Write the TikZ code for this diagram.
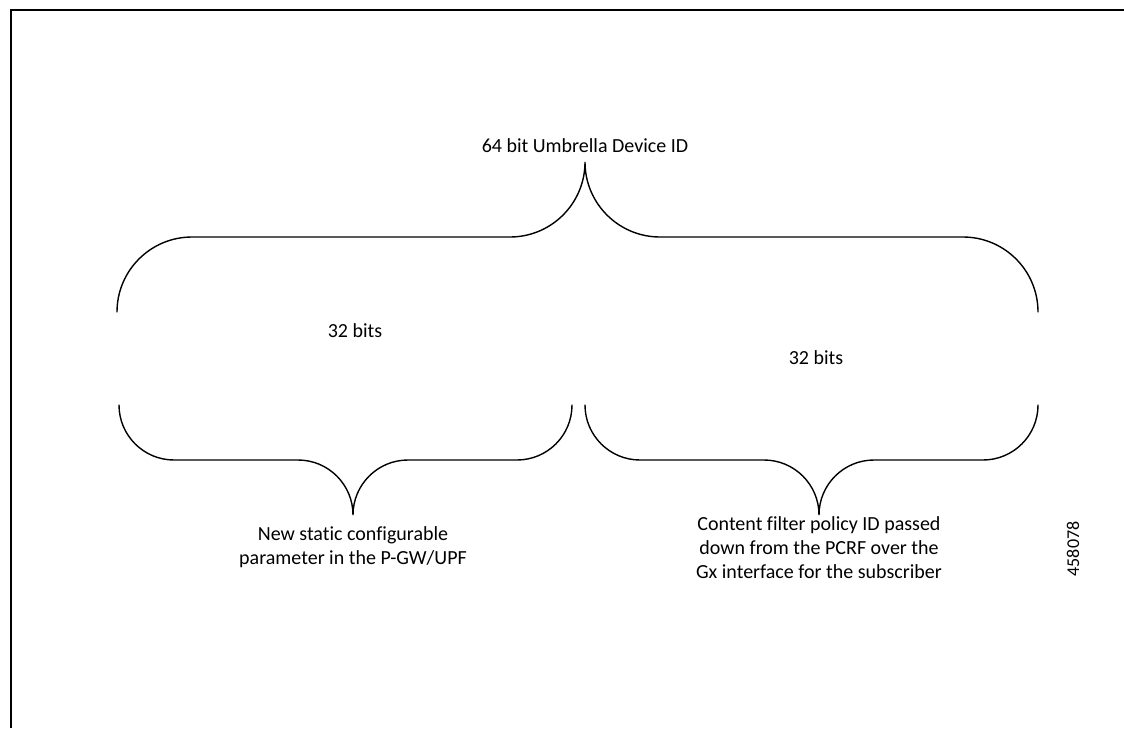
\documentclass[tikz,border=0pt]{standalone}
\usepackage{fontspec}
\setmainfont{Carlito}[Ligatures=NoCommon]
\usetikzlibrary{positioning}

\begin{document}
\begin{tikzpicture}[x=1pt,y=1pt,
  brace/.style={line width=1.4pt,line cap=round},
  label/.style={inner sep=0pt,align=center,font=\fontsize{20}{24}\selectfont}]

\useasboundingbox (0,0) rectangle (1124,-728);
\draw[line width=2.2pt] (11,-728) -- (11,-10) -- (1124,-10);

% tips of the braces
\coordinate (toptip) at (585,-162);
\coordinate (lefttip) at (353,-515);
\coordinate (righttip) at (819,-515);

% 64 bit brace
\draw[brace] (117,-312) arc[start angle=180,end angle=90,radius=75] -- (510,-237)
  arc[start angle=270,end angle=360,radius=75]
  arc[start angle=180,end angle=270,radius=75] -- (963,-237)
  arc[start angle=90,end angle=0,radius=75];

% two 32 bit braces
\draw[brace] (119,-405) arc[start angle=180,end angle=270,radius=55] -- (298,-460)
  arc[start angle=90,end angle=0,radius=55]
  arc[start angle=180,end angle=90,radius=55] -- (517,-460)
  arc[start angle=270,end angle=360,radius=55];
\draw[brace] (585,-405) arc[start angle=180,end angle=270,radius=55] -- (764,-460)
  arc[start angle=90,end angle=0,radius=55]
  arc[start angle=180,end angle=90,radius=55] -- (983,-460)
  arc[start angle=270,end angle=360,radius=55];

\node[label,above=9pt of toptip] (umbrella) {64 bit Umbrella Device ID};
\node[label,anchor=base] (leftbits) at (355,-337) {32 bits};
\node[label,anchor=base] (rightbits) at (816,-364) {32 bits};
\node[label,below=11pt of lefttip] (static) {New static configurable\\parameter in the P-GW/UPF};
\node[label,below=1pt of righttip] (policy) {Content filter policy ID passed\\down from the PCRF over the\\Gx interface for the subscriber};
\node[inner sep=0pt,rotate=90,font=\fontsize{18}{22}\selectfont] (figid) at (1073,-549) {458078};

\end{tikzpicture}
\end{document}
